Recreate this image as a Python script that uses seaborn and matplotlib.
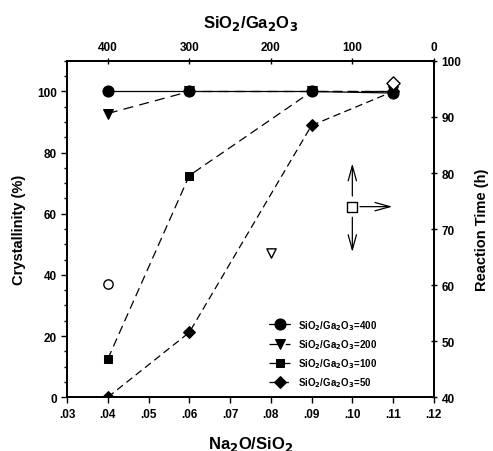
import matplotlib
matplotlib.use("Agg")
import matplotlib.pyplot as plt
import seaborn as sns
from matplotlib.ticker import FuncFormatter, MultipleLocator

sns.set_theme(style="ticks", rc={
    "text.color": "black", "axes.labelcolor": "black", "axes.edgecolor": "black",
    "xtick.color": "black", "ytick.color": "black",
})
plt.rcParams["font.family"] = ["Liberation Sans", "DejaVu Sans"]
plt.rcParams["font.weight"] = "bold"

# Na2O/SiO2 ratios used for every series
na2o_sio2 = [0.04, 0.06, 0.09, 0.11]

# crystallinity (%) for each SiO2/Ga2O3 series
series_labels = ["400", "200", "100", "50"]
cryst_400 = [100, 100, 100, 99.5]
cryst_200 = [92.8, 100, 100, 100]
cryst_100 = [12.5, 72.5, 100, 100]
cryst_50 = [0, 21.2, 88.9, 100]

# reaction time (h), open symbols on right axis
time_x = [0.04, 0.08, 0.10, 0.11]
time_h = [60.2, 65.8, 74.0, 96.0]
time_markers = ["o", "v", "s", "D"]

# arrows around the open square (up, down, right), offsets from the square
arrow_dx = [0.0, 0.0, 0.0105]
arrow_dy = [8.2, -8.6, 0.0]

fig = plt.figure(figsize=(4.93, 4.52), dpi=100)
ax = fig.add_axes([0.136, 0.119, 0.744, 0.744])

# marker, dash pattern, marker size, zorder (circles drawn on top)
styles = [
    ("o", "-", 8, 6),
    ("v", (0, (8, 5)), 6.5, 3),
    ("s", (0, (7, 4)), 6, 4),
    ("D", (0, (6, 3.5)), 6, 5),
]
for lab, vals, (mk, ls, ms, z) in zip(series_labels, [cryst_400, cryst_200, cryst_100, cryst_50], styles):
    sns.lineplot(x=na2o_sio2, y=vals, ax=ax, color="black", marker=mk, linestyle=ls,
                 linewidth=0.9, markersize=ms, markeredgecolor="black", zorder=z,
                 label=f"SiO$_2$/Ga$_2$O$_3$={lab}")

ax.set_xlim(0.03, 0.12)
ax.set_ylim(0, 110)
ax.xaxis.set_major_locator(MultipleLocator(0.01))
ax.yaxis.set_major_locator(MultipleLocator(20))
ax.yaxis.set_minor_locator(MultipleLocator(5))
ax.xaxis.set_major_formatter(FuncFormatter(lambda v, p: f"{v:.2f}".lstrip("0")))
ax.set_xlabel("Na$_2$O/SiO$_2$", fontsize=12, fontweight="bold", labelpad=10)
ax.set_ylabel("Crystallinity (%)", fontsize=10.5, fontweight="bold", labelpad=8)
ax.tick_params(axis="both", labelsize=8.5, width=1.0, length=4, direction="out")
ax.tick_params(axis="y", which="minor", length=2)
for lbl in ax.get_xticklabels() + ax.get_yticklabels():
    lbl.set_fontweight("bold")

leg = ax.legend(loc="center left", bbox_to_anchor=(0.54, 0.13), frameon=False,
                fontsize=7, handlelength=2.2, labelspacing=0.55, borderaxespad=0)
for t in leg.get_texts():
    t.set_fontweight("bold")

# right axis: reaction time
ax2 = ax.twinx()
for x, y, mk in zip(time_x, time_h, time_markers):
    sns.scatterplot(x=[x], y=[y], ax=ax2, marker=mk, s=45, facecolor="white",
                    edgecolor="black", linewidth=1.0, zorder=5)
sq_x, sq_y = time_x[2], time_h[2]
for dx, dy in zip(arrow_dx, arrow_dy):
    ax2.annotate("", xy=(sq_x + dx, sq_y + dy),
                 xytext=(sq_x + (0.0012 if dx else 0), sq_y + (1.4 if dy > 0 else -1.4 if dy < 0 else 0)),
                 arrowprops=dict(arrowstyle="->,head_length=0.9,head_width=0.25", color="black", lw=0.9))
ax2.set_ylim(40, 100)
ax2.yaxis.set_major_locator(MultipleLocator(10))
ax2.set_ylabel("Reaction Time (h)", fontsize=10.5, fontweight="bold", labelpad=10)
ax2.tick_params(axis="y", labelsize=8.5, width=1.0, length=4, direction="inout")
for lbl in ax2.get_yticklabels():
    lbl.set_fontweight("bold")

# top axis: SiO2/Ga2O3
top = ax.secondary_xaxis("top", functions=(lambda x: 600 - 5000 * x, lambda s: (600 - s) / 5000))
top.set_xticks([400, 300, 200, 100, 0])
top.set_xlabel("SiO$_2$/Ga$_2$O$_3$", fontsize=12, fontweight="bold", labelpad=10)
top.tick_params(labelsize=8.5, width=1.0, length=4, direction="inout")
for lbl in top.get_xticklabels():
    lbl.set_fontweight("bold")

for a in (ax, ax2):
    for sp in a.spines.values():
        sp.set_linewidth(1.3)

fig.savefig("out.png", dpi=100)
